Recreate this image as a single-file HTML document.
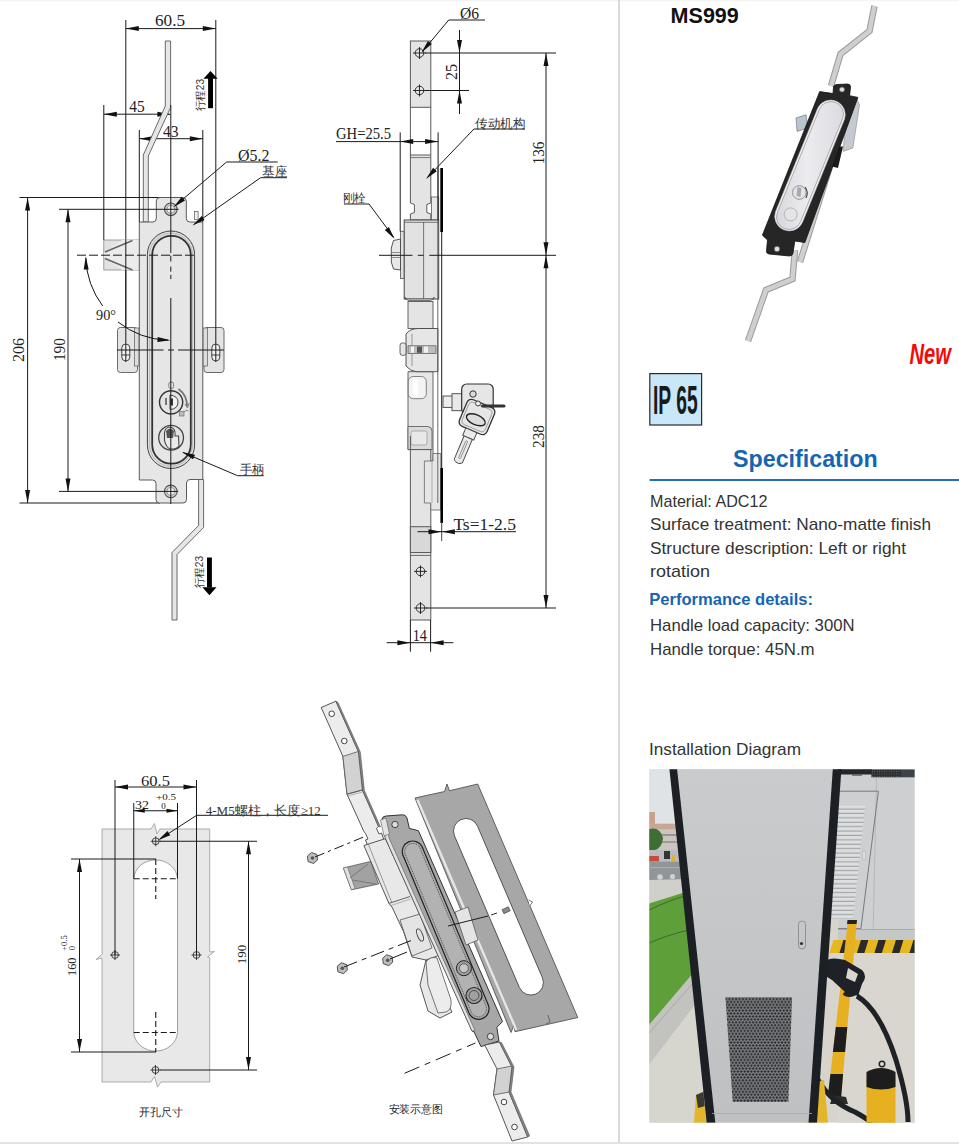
<!DOCTYPE html>
<html><head><meta charset="utf-8">
<style>
html,body{margin:0;padding:0;background:#fff;}
body{width:959px;height:1144px;position:relative;overflow:hidden;font-family:"Liberation Sans",sans-serif;}
.abs{position:absolute;}
</style></head><body>
<div class="abs" style="left:0;top:0;width:959px;height:2px;background:linear-gradient(#f0f0f0,#fff)"></div>
<div class="abs" style="left:617.5px;top:0;width:2px;height:1144px;background:#d9d9d9"></div>
<div class="abs" style="left:0;top:1142px;width:959px;height:2px;background:#e2e2e2"></div>
<svg class="abs" style="left:0;top:0" width="959" height="1144" viewBox="0 0 959 1144">
<line x1="125.8" y1="20" x2="125.8" y2="360" stroke="#1a1a1a" stroke-width="1"/>
<line x1="215.8" y1="20" x2="215.8" y2="360" stroke="#1a1a1a" stroke-width="1"/>
<line x1="125.8" y1="28.6" x2="215.8" y2="28.6" stroke="#1a1a1a" stroke-width="1"/>
<polygon points="125.80,28.60 138.80,26.10 138.80,31.10" fill="#111"/>
<polygon points="215.80,28.60 202.80,31.10 202.80,26.10" fill="#111"/>
<text x="170" y="26" font-family="Liberation Serif" font-size="16.5" text-anchor="middle" fill="#222" textLength="30" lengthAdjust="spacingAndGlyphs" >60.5</text>
<line x1="103.8" y1="105" x2="103.8" y2="240" stroke="#1a1a1a" stroke-width="1"/>
<line x1="103.8" y1="114.2" x2="170.4" y2="114.2" stroke="#1a1a1a" stroke-width="1"/>
<polygon points="103.80,114.20 116.80,111.70 116.80,116.70" fill="#111"/>
<polygon points="170.40,114.20 157.40,116.70 157.40,111.70" fill="#111"/>
<text x="136.9" y="111.6" font-family="Liberation Serif" font-size="16.5" text-anchor="middle" fill="#222" textLength="15.4" lengthAdjust="spacingAndGlyphs" >45</text>
<line x1="139.3" y1="130" x2="139.3" y2="222" stroke="#1a1a1a" stroke-width="1"/>
<line x1="202.8" y1="130" x2="202.8" y2="222" stroke="#1a1a1a" stroke-width="1"/>
<line x1="139.3" y1="138.7" x2="202.8" y2="138.7" stroke="#1a1a1a" stroke-width="1"/>
<polygon points="139.30,138.70 152.30,136.20 152.30,141.20" fill="#111"/>
<polygon points="202.80,138.70 189.80,141.20 189.80,136.20" fill="#111"/>
<text x="170.8" y="136.6" font-family="Liberation Serif" font-size="16.5" text-anchor="middle" fill="#222" textLength="15.6" lengthAdjust="spacingAndGlyphs" >43</text>
<path d="M165.3,41 L170.6,41 L170.6,107.5 L148.3,156 L148.3,222 L143.3,222 L143.3,155 L165.3,106 Z" fill="#e6e6e6" stroke="#5a5a5a" stroke-width="0.9"/>
<rect x="208.1" y="78" width="4.9" height="30.2" fill="#000"/>
<polygon points="210.5,70.9 217.6,78.7 203.4,78.7" fill="#000"/>
<text x="199.5" y="95" font-family="Liberation Sans" font-size="10.7" text-anchor="middle" fill="#333" transform="rotate(-90 199.5 95)" textLength="32" lengthAdjust="spacingAndGlyphs" dominant-baseline="central">行程23</text>
<line x1="19.5" y1="197.5" x2="160" y2="197.5" stroke="#1a1a1a" stroke-width="1"/>
<line x1="19.5" y1="503" x2="160" y2="503" stroke="#1a1a1a" stroke-width="1"/>
<line x1="27.6" y1="197.5" x2="27.6" y2="503" stroke="#1a1a1a" stroke-width="1"/>
<polygon points="27.60,197.50 30.10,210.50 25.10,210.50" fill="#111"/>
<polygon points="27.60,503.00 25.10,490.00 30.10,490.00" fill="#111"/>
<text x="18.9" y="350" font-family="Liberation Serif" font-size="16.5" text-anchor="middle" fill="#222" transform="rotate(-90 18.9 350)" textLength="24" lengthAdjust="spacingAndGlyphs" dominant-baseline="central">206</text>
<line x1="59" y1="209.3" x2="164" y2="209.3" stroke="#1a1a1a" stroke-width="1"/>
<line x1="59" y1="491.4" x2="164" y2="491.4" stroke="#1a1a1a" stroke-width="1"/>
<line x1="68" y1="209.3" x2="68" y2="491.4" stroke="#1a1a1a" stroke-width="1"/>
<polygon points="68.00,209.30 70.50,222.30 65.50,222.30" fill="#111"/>
<polygon points="68.00,491.40 65.50,478.40 70.50,478.40" fill="#111"/>
<text x="59.5" y="349.6" font-family="Liberation Serif" font-size="16.5" text-anchor="middle" fill="#222" transform="rotate(-90 59.5 349.6)" textLength="23" lengthAdjust="spacingAndGlyphs" dominant-baseline="central">190</text>
<rect x="103.8" y="240" width="35.5" height="30" fill="#e2e2e2" stroke="#888" stroke-width="0.8"/>
<path d="M122,240 L139,240 L139,270 L122,270 L104,257.5 L104,252.5Z" fill="#ececec" stroke="none"/>
<path d="M132.5,240.5 L105,252 M105,258.5 L132.5,270" stroke="#666" stroke-width="1.6" fill="none"/>
<rect x="117.5" y="327.5" width="20" height="45" rx="3" fill="#e4e4e4" stroke="#5a5a5a" stroke-width="0.9"/>
<rect x="204" y="327.5" width="20" height="45" rx="3" fill="#e4e4e4" stroke="#5a5a5a" stroke-width="0.9"/>
<rect x="134.5" y="328" width="4.5" height="38" fill="#ddd" stroke="#5a5a5a" stroke-width="0.7"/>
<rect x="203" y="328" width="4.5" height="38" fill="#ddd" stroke="#5a5a5a" stroke-width="0.7"/>
<rect x="121.8" y="344" width="8" height="17" rx="4" fill="#f2f2f2" stroke="#333" stroke-width="0.9"/>
<line x1="121.8" y1="355" x2="129.8" y2="355" stroke="#1a1a1a" stroke-width="0.8"/>
<rect x="211.8" y="344" width="8" height="17" rx="4" fill="#f2f2f2" stroke="#333" stroke-width="0.9"/>
<line x1="211.8" y1="355" x2="219.8" y2="355" stroke="#1a1a1a" stroke-width="0.8"/>
<line x1="125.8" y1="240" x2="125.8" y2="362" stroke="#1a1a1a" stroke-width="1"/>
<line x1="215.8" y1="327" x2="215.8" y2="362" stroke="#1a1a1a" stroke-width="1"/>
<path d="M139.3,222 L153,222 Q156.3,222 156.3,218 L156.3,201 Q156.3,197.5 160,197.5 L182.5,197.5 Q186.3,197.5 186.3,201 L186.3,218.5 Q186.3,222 190,222 L202.8,222 L202.8,479.5 L190,479.5 Q186.5,479.5 186.5,483 L186.5,499.5 Q186.5,503 183,503 L159.5,503 Q156,503 156,499.5 L156,483.5 Q156,480 152.5,480 L139.3,480 Z" fill="#e6e6e6" stroke="#5a5a5a" stroke-width="1"/>
<rect x="194.5" y="211.5" width="3.6" height="8" fill="#eee" stroke="#5a5a5a" stroke-width="0.7"/>
<circle cx="170.8" cy="209.3" r="6.3" fill="#cfcfcf" stroke="#555" stroke-width="1.1"/>
<circle cx="170.8" cy="209.3" r="4" fill="#f2f2f2" stroke="#888" stroke-width="0.8"/>
<circle cx="170.8" cy="491.4" r="6.3" fill="#cfcfcf" stroke="#555" stroke-width="1.1"/>
<circle cx="170.8" cy="491.4" r="4" fill="#f2f2f2" stroke="#888" stroke-width="0.8"/>
<line x1="156" y1="209.3" x2="178.6" y2="209.3" stroke="#1a1a1a" stroke-width="1"/>
<line x1="156" y1="491.4" x2="178.2" y2="491.4" stroke="#1a1a1a" stroke-width="1"/>
<rect x="147.4" y="231" width="47.2" height="237.5" rx="23.6" fill="#e2e2e2" stroke="#444" stroke-width="1"/>
<rect x="152.2" y="235.8" width="38.6" height="227.9" rx="19.3" fill="#e6e6e6" stroke="#333" stroke-width="1.8"/>
<rect x="149.6" y="233.2" width="42.8" height="233.1" rx="21.4" fill="none" stroke="#999" stroke-width="0.6"/>
<circle cx="171.1" cy="402.3" r="11.6" fill="#e4e4e4" stroke="#333" stroke-width="1.4"/>
<path d="M170,395 Q178,396 178,402 Q178,409 170,409.5 Z" fill="#f2f2f2" stroke="#444" stroke-width="1"/>
<rect x="170.2" y="398.5" width="2.8" height="7" fill="#333"/>
<path d="M165,398 L167,398 L167,405 L165,405 Z" fill="#777"/>
<path d="M178.5,389 Q187,395 187,406" stroke="#777" stroke-width="1.8" fill="none"/>
<path d="M185,404 L187.5,408 L189,403" stroke="#777" stroke-width="1" fill="none"/>
<rect x="168.8" y="382" width="4.8" height="6.5" rx="2" fill="none" stroke="#777" stroke-width="0.9"/>
<rect x="179.5" y="411.5" width="4.5" height="4.5" fill="#bbb" stroke="#777" stroke-width="0.7"/>
<path d="M184,412 Q186,409 188.5,411" stroke="#777" stroke-width="0.9" fill="none"/>
<circle cx="171.1" cy="437.7" r="12.4" fill="#e2e2e2" stroke="#444" stroke-width="1.3"/>
<path d="M164.5,440.5 L164.5,433 Q165,427 170,427 Q176,428 175,436 L178.5,436 L179,446 Q176,449.5 170,449 Q166,447 164.5,440.5 Z" fill="#eaeaea" stroke="#444" stroke-width="1.1"/>
<path d="M166,431 Q170,426 174,431 L173,438 L167,438 Z" fill="#555"/>
<line x1="77" y1="255.2" x2="195" y2="255.2" stroke="#1a1a1a" stroke-width="1" stroke-dasharray="9 3"/>
<line x1="117" y1="350" x2="163.5" y2="350" stroke="#1a1a1a" stroke-width="1"/>
<line x1="168" y1="350" x2="174" y2="350" stroke="#1a1a1a" stroke-width="1"/>
<line x1="178" y1="350" x2="224" y2="350" stroke="#1a1a1a" stroke-width="1"/>
<line x1="170.8" y1="105" x2="170.8" y2="253" stroke="#1a1a1a" stroke-width="1"/>
<line x1="170.8" y1="255.6" x2="170.8" y2="261.5" stroke="#1a1a1a" stroke-width="1"/>
<line x1="170.8" y1="266.6" x2="170.8" y2="271.7" stroke="#1a1a1a" stroke-width="1"/>
<line x1="170.8" y1="274.8" x2="170.8" y2="279" stroke="#1a1a1a" stroke-width="1"/>
<line x1="170.8" y1="298" x2="170.8" y2="504" stroke="#1a1a1a" stroke-width="1"/>
<path d="M85.8,258 A85,85 0 0 0 102.7,306" fill="none" stroke="#111" stroke-width="1"/>
<path d="M118,322 A85,85 0 0 0 168,340.2" fill="none" stroke="#111" stroke-width="1"/>
<polygon points="85.80,256.50 88.68,269.42 83.69,269.57" fill="#111"/>
<polygon points="170.50,340.20 157.39,342.02 157.65,337.03" fill="#111"/>
<text x="106" y="320" font-family="Liberation Serif" font-size="15" text-anchor="middle" fill="#222" textLength="20" lengthAdjust="spacingAndGlyphs" >90°</text>
<line x1="226.6" y1="162" x2="277.7" y2="162" stroke="#1a1a1a" stroke-width="1"/>
<line x1="226.6" y1="162" x2="174.5" y2="206.3" stroke="#1a1a1a" stroke-width="1"/>
<polygon points="173.50,207.20 181.72,196.82 184.98,200.61" fill="#111"/>
<text x="253.7" y="160.6" font-family="Liberation Serif" font-size="16.5" text-anchor="middle" fill="#222" textLength="31.4" lengthAdjust="spacingAndGlyphs" >Ø5.2</text>
<line x1="260.6" y1="177.7" x2="287" y2="177.7" stroke="#1a1a1a" stroke-width="1"/>
<line x1="260.6" y1="177.7" x2="194" y2="224.5" stroke="#1a1a1a" stroke-width="1"/>
<polygon points="192.50,225.50 201.69,215.97 204.57,220.06" fill="#111"/>
<text x="274.5" y="176" font-family="Liberation Sans" font-size="12.5" text-anchor="middle" fill="#333" textLength="25" lengthAdjust="spacingAndGlyphs" >基座</text>
<line x1="237.6" y1="475.7" x2="263.7" y2="475.7" stroke="#1a1a1a" stroke-width="1"/>
<line x1="237.6" y1="475.7" x2="183" y2="452.5" stroke="#1a1a1a" stroke-width="1"/>
<polygon points="182.00,452.00 194.95,454.75 193.00,459.36" fill="#111"/>
<text x="252.2" y="474" font-family="Liberation Sans" font-size="12.5" text-anchor="middle" fill="#333" textLength="25" lengthAdjust="spacingAndGlyphs" >手柄</text>
<path d="M198.6,479.5 L203.6,479.5 L203.6,527.5 L177,554.5 L177,620 L172,620 L172,552.5 L198.6,525.5 Z" fill="#e6e6e6" stroke="#5a5a5a" stroke-width="0.9"/>
<rect x="207" y="557.5" width="4.9" height="30" fill="#000"/>
<polygon points="209.45,595.3 216.5,587.3 202.4,587.3" fill="#000"/>
<text x="199" y="572" font-family="Liberation Sans" font-size="10.7" text-anchor="middle" fill="#333" transform="rotate(-90 199 572)" textLength="32" lengthAdjust="spacingAndGlyphs" dominant-baseline="central">行程23</text>
<rect x="410.4" y="41" width="20.400000000000034" height="66.3" fill="#e4e4e4" stroke="#5a5a5a" stroke-width="1"/>
<line x1="410.4" y1="107.3" x2="410.4" y2="155" stroke="#5a5a5a" stroke-width="1"/>
<line x1="430.8" y1="107.3" x2="430.8" y2="155" stroke="#5a5a5a" stroke-width="1"/>
<path d="M410.4,155 L430.8,155 L430.8,203 L426.8,204.5 L426.8,212.5 L430.8,214 L430.8,220 L410.4,220 L410.4,214 L414.4,212.5 L414.4,204.5 L410.4,203 Z" fill="#e4e4e4" stroke="#5a5a5a" stroke-width="1"/>
<line x1="410.4" y1="157.6" x2="430.8" y2="157.6" stroke="#5a5a5a" stroke-width="0.8"/>
<rect x="431.4" y="197" width="7.3" height="23" fill="#e8e8e8" stroke="#5a5a5a" stroke-width="0.8"/>
<circle cx="419.5" cy="53" r="4.3" fill="none" stroke="#333" stroke-width="1"/>
<line x1="413" y1="53" x2="426" y2="53" stroke="#1a1a1a" stroke-width="0.9"/>
<line x1="419.5" y1="47" x2="419.5" y2="59" stroke="#1a1a1a" stroke-width="0.9"/>
<circle cx="419.5" cy="90.5" r="4.3" fill="none" stroke="#333" stroke-width="1"/>
<line x1="413" y1="90.5" x2="426" y2="90.5" stroke="#1a1a1a" stroke-width="0.9"/>
<line x1="419.5" y1="84.5" x2="419.5" y2="96.5" stroke="#1a1a1a" stroke-width="0.9"/>
<rect x="404.2" y="220" width="34.5" height="79" fill="#e2e2e2" stroke="#444" stroke-width="1"/>
<line x1="404.2" y1="222.3" x2="438.7" y2="222.3" stroke="#5a5a5a" stroke-width="0.8"/>
<line x1="423.6" y1="222" x2="423.6" y2="299" stroke="#555" stroke-width="0.8"/>
<rect x="400.5" y="231.3" width="3.5" height="47.2" fill="#e0e0e0" stroke="#555" stroke-width="0.8"/>
<path d="M400.5,239 L393.5,240.5 L391.3,248 L391.3,262 L393.5,269 L400.5,270 Z" fill="#e8e8e8" stroke="#444" stroke-width="0.9"/>
<line x1="391.5" y1="252.5" x2="400.5" y2="252.5" stroke="#666" stroke-width="0.7"/>
<line x1="391.5" y1="257.5" x2="400.5" y2="257.5" stroke="#666" stroke-width="0.7"/>
<path d="M405.2,299 L434,299 L434,297 Q434,300 430,300.5 L409,300.5 Q405.2,300 405.2,297 Z" fill="#e4e4e4" stroke="#555" stroke-width="0.8"/>
<rect x="408" y="301.5" width="25" height="27" fill="#e4e4e4" stroke="#555" stroke-width="0.9"/>
<path d="M408,371.7 L433,371.7 L433,461 L424.4,461 L424.4,449.6 L408,449.6 Z" fill="#e6e6e6" stroke="#555" stroke-width="0.9"/>
<rect x="408.3" y="376.5" width="18" height="22.2" rx="5" fill="#f4f4f4" stroke="#666" stroke-width="0.8"/>
<rect x="413" y="379" width="5" height="17" rx="2.5" fill="#fff"/>
<path d="M408,426.5 L428,426.5 Q432,427 432,431 L432,449.6 L408,449.6 Z" fill="#dadada" stroke="#555" stroke-width="0.8"/>
<rect x="411" y="431" width="16" height="14" rx="2" fill="#e8e8e8" stroke="#888" stroke-width="0.6"/>
<path d="M406,334 Q410,328.5 418.6,328.5 L437.9,328.5 L437.9,371.7 L416,371.7 Q410,371 406,366 Z" fill="#e6e6e6" stroke="#444" stroke-width="0.9"/>
<line x1="412" y1="334" x2="412" y2="366" stroke="#777" stroke-width="0.7"/>
<rect x="400" y="342.9" width="6" height="12.5" rx="2.5" fill="#e6e6e6" stroke="#444" stroke-width="0.8"/>
<rect x="408" y="345.8" width="28" height="7.7" fill="#bdbdbd" stroke="#555" stroke-width="0.7"/>
<rect x="411" y="346.5" width="3" height="6.3" fill="#f4f4f4"/><rect x="424" y="346.5" width="4" height="6.3" fill="#f0f0f0"/><rect x="417" y="346.5" width="5" height="6.3" fill="#555"/>
<rect x="410.4" y="449.6" width="20.400000000000034" height="170.4" fill="#e4e4e4" stroke="#5a5a5a" stroke-width="1"/>
<line x1="410.4" y1="436" x2="410.4" y2="449.6" stroke="#5a5a5a" stroke-width="1"/>
<rect x="410.4" y="526.7" width="20.400000000000034" height="25.8" fill="#d8d8d8" stroke="#5a5a5a" stroke-width="1"/>
<line x1="410.4" y1="555.4" x2="430.8" y2="555.4" stroke="#5a5a5a" stroke-width="0.9"/>
<path d="M424.4,461 L433,461 L433,453.5 L440.8,453.5 L440.8,510 L430.8,510 L430.8,503 L424.4,503 Z" fill="#e6e6e6" stroke="#666" stroke-width="0.8"/>
<line x1="432" y1="461" x2="432" y2="503" stroke="#888" stroke-width="0.6"/>
<circle cx="420.5" cy="571.4" r="4.3" fill="none" stroke="#333" stroke-width="1"/>
<line x1="414" y1="571.4" x2="427" y2="571.4" stroke="#1a1a1a" stroke-width="0.9"/>
<line x1="420.5" y1="565.4" x2="420.5" y2="577.4" stroke="#1a1a1a" stroke-width="0.9"/>
<circle cx="420.5" cy="608" r="4.3" fill="none" stroke="#333" stroke-width="1"/>
<line x1="414" y1="608" x2="427" y2="608" stroke="#1a1a1a" stroke-width="0.9"/>
<line x1="420.5" y1="602" x2="420.5" y2="614" stroke="#1a1a1a" stroke-width="0.9"/>
<line x1="437.8" y1="168" x2="437.8" y2="503" stroke="#5a5a5a" stroke-width="0.9"/>
<rect x="440.3" y="168" width="2.7" height="64" fill="#000"/>
<line x1="441.7" y1="232" x2="441.7" y2="468" stroke="#1a1a1a" stroke-width="1"/>
<rect x="440.4" y="468" width="2.6" height="55" fill="#000"/>
<line x1="441.7" y1="522" x2="441.7" y2="541" stroke="#444" stroke-width="1"/>
<rect x="443" y="396" width="10" height="11.4" fill="#eee" stroke="#444" stroke-width="0.9"/>
<rect x="452" y="393.7" width="10" height="17" fill="#e8e8e8" stroke="#444" stroke-width="0.9"/>
<rect x="461.7" y="384" width="31.5" height="30" rx="5" fill="#e6e6e6" stroke="#333" stroke-width="1.2"/>
<circle cx="473" cy="394" r="3.2" fill="#ddd" stroke="#333" stroke-width="1"/>
<g transform="rotate(23 477 417)">
<rect x="462" y="402.5" width="30" height="29" rx="5" fill="#e6e6e6" stroke="#333" stroke-width="1.3"/>
<rect x="464.5" y="405" width="25" height="24" rx="4" fill="none" stroke="#888" stroke-width="0.7"/>
<ellipse cx="477" cy="420" rx="10" ry="5" fill="#ddd" stroke="#222" stroke-width="1.4"/>
<rect x="471" y="431.5" width="12" height="8" fill="#eaeaea" stroke="#444" stroke-width="0.9"/>
<path d="M472.5,439.5 L481.5,439.5 L481.5,465 Q477,469 472.5,465 Z" fill="#eaeaea" stroke="#444" stroke-width="0.9"/>
<rect x="476" y="443" width="2" height="19" rx="1" fill="none" stroke="#666" stroke-width="0.6"/>
</g>
<circle cx="478" cy="403.5" r="2.5" fill="#eee" stroke="#333" stroke-width="0.9"/>
<rect x="481" y="404.5" width="24.5" height="3" rx="1.5" fill="#333"/>
<text x="469.5" y="19" font-family="Liberation Serif" font-size="16.5" text-anchor="middle" fill="#222" textLength="19" lengthAdjust="spacingAndGlyphs" >Ø6</text>
<line x1="448.7" y1="20" x2="485" y2="20" stroke="#1a1a1a" stroke-width="1"/>
<line x1="448.7" y1="20" x2="422.5" y2="51.5" stroke="#1a1a1a" stroke-width="1"/>
<polygon points="421.50,52.50 427.90,40.91 431.74,44.11" fill="#111"/>
<line x1="425" y1="53" x2="556" y2="53" stroke="#1a1a1a" stroke-width="1"/>
<line x1="425" y1="90.5" x2="469" y2="90.5" stroke="#1a1a1a" stroke-width="1"/>
<line x1="459.5" y1="30" x2="459.5" y2="114" stroke="#1a1a1a" stroke-width="1"/>
<polygon points="459.50,53.00 457.00,40.00 462.00,40.00" fill="#111"/>
<polygon points="459.50,90.50 462.00,103.50 457.00,103.50" fill="#111"/>
<text x="451.75" y="72" font-family="Liberation Serif" font-size="16.5" text-anchor="middle" fill="#222" transform="rotate(-90 451.75 72)" textLength="16" lengthAdjust="spacingAndGlyphs" dominant-baseline="central">25</text>
<line x1="448" y1="255.3" x2="556" y2="255.3" stroke="#1a1a1a" stroke-width="1"/>
<line x1="379" y1="255.3" x2="412.5" y2="255.3" stroke="#1a1a1a" stroke-width="1"/>
<line x1="417.8" y1="255.3" x2="423.6" y2="255.3" stroke="#1a1a1a" stroke-width="1"/>
<line x1="429.3" y1="255.3" x2="448" y2="255.3" stroke="#1a1a1a" stroke-width="1"/>
<line x1="426" y1="608" x2="556" y2="608" stroke="#1a1a1a" stroke-width="1"/>
<line x1="546" y1="53" x2="546" y2="608" stroke="#1a1a1a" stroke-width="1"/>
<polygon points="546.00,53.00 548.50,66.00 543.50,66.00" fill="#111"/>
<polygon points="546.00,255.30 543.50,242.30 548.50,242.30" fill="#111"/>
<polygon points="546.00,255.30 548.50,268.30 543.50,268.30" fill="#111"/>
<polygon points="546.00,608.00 543.50,595.00 548.50,595.00" fill="#111"/>
<text x="538.3" y="153" font-family="Liberation Serif" font-size="16.5" text-anchor="middle" fill="#222" transform="rotate(-90 538.3 153)" textLength="23" lengthAdjust="spacingAndGlyphs" dominant-baseline="central">136</text>
<text x="538.3" y="436.5" font-family="Liberation Serif" font-size="16.5" text-anchor="middle" fill="#222" transform="rotate(-90 538.3 436.5)" textLength="23" lengthAdjust="spacingAndGlyphs" dominant-baseline="central">238</text>
<line x1="400.2" y1="132.4" x2="400.2" y2="231.3" stroke="#1a1a1a" stroke-width="1"/>
<line x1="438.1" y1="132.4" x2="438.1" y2="220" stroke="#1a1a1a" stroke-width="1"/>
<line x1="336" y1="141.6" x2="438.1" y2="141.6" stroke="#1a1a1a" stroke-width="1"/>
<polygon points="400.20,141.60 413.20,139.10 413.20,144.10" fill="#111"/>
<polygon points="438.10,141.60 425.10,144.10 425.10,139.10" fill="#111"/>
<text x="336" y="139" font-family="Liberation Serif" font-size="16.5" text-anchor="start" fill="#222" textLength="55" lengthAdjust="spacingAndGlyphs" >GH=25.5</text>
<line x1="474" y1="129" x2="525" y2="129" stroke="#1a1a1a" stroke-width="1"/>
<line x1="474" y1="129" x2="427.5" y2="177.5" stroke="#1a1a1a" stroke-width="1"/>
<polygon points="426.00,179.00 433.14,167.85 436.77,171.30" fill="#111"/>
<text x="500" y="128" font-family="Liberation Sans" font-size="12.5" text-anchor="middle" fill="#333" textLength="50" lengthAdjust="spacingAndGlyphs" >传动机构</text>
<line x1="344" y1="204" x2="369" y2="204" stroke="#1a1a1a" stroke-width="1"/>
<line x1="369" y1="204" x2="393.5" y2="237" stroke="#1a1a1a" stroke-width="1"/>
<polygon points="394.50,239.00 384.83,229.96 388.88,227.02" fill="#111"/>
<text x="354.3" y="201.5" font-family="Liberation Sans" font-size="12" text-anchor="middle" fill="#333" textLength="23.5" lengthAdjust="spacingAndGlyphs" >刚栓</text>
<line x1="417.5" y1="531.7" x2="516" y2="531.7" stroke="#1a1a1a" stroke-width="1"/>
<polygon points="441.50,531.70 428.50,534.20 428.50,529.20" fill="#111"/>
<polygon points="441.90,531.70 454.90,529.20 454.90,534.20" fill="#111"/>
<text x="484.7" y="530" font-family="Liberation Serif" font-size="16.5" text-anchor="middle" fill="#222" textLength="62.6" lengthAdjust="spacingAndGlyphs" >Ts=1-2.5</text>
<line x1="410.4" y1="620" x2="410.4" y2="651.7" stroke="#1a1a1a" stroke-width="1"/>
<line x1="430.6" y1="620" x2="430.6" y2="651.7" stroke="#1a1a1a" stroke-width="1"/>
<line x1="386.7" y1="642.7" x2="453.4" y2="642.7" stroke="#1a1a1a" stroke-width="1"/>
<polygon points="410.40,642.70 397.40,645.20 397.40,640.20" fill="#111"/>
<polygon points="430.60,642.70 443.60,640.20 443.60,645.20" fill="#111"/>
<text x="419.85" y="641" font-family="Liberation Serif" font-size="16.5" text-anchor="middle" fill="#222" textLength="14.3" lengthAdjust="spacingAndGlyphs" >14</text>
<path d="M102,829 L151,829 L154.5,823.5 L157,834 L160,829 L209.7,829 L209.7,952 L214.5,951.5 L207.5,957 L209.7,957.5 L209.7,1082 L161,1082 L157.5,1087 L154.5,1076.5 L151,1082 L102,1082 L102,958 L96,959.5 L103,953.5 L102,953 Z" fill="#e8e8e8" stroke="#9a9a9a" stroke-width="0.8"/>
<path d="M133.75,878.75 A21.9,19.75 0 0 1 177.5,878.75 L177.5,1032.5 A21.9,19.5 0 0 1 133.75,1032.5 Z" fill="#fff" stroke="#8a8a8a" stroke-width="0.8"/>
<line x1="133.75" y1="878.75" x2="177.5" y2="878.75" stroke="#1a1a1a" stroke-width="1.1" stroke-dasharray="6 3"/>
<line x1="155.75" y1="859" x2="155.75" y2="899" stroke="#1a1a1a" stroke-width="1.1" stroke-dasharray="6 3"/>
<line x1="133.75" y1="1032.5" x2="177.5" y2="1032.5" stroke="#1a1a1a" stroke-width="1.1" stroke-dasharray="6 3"/>
<line x1="155.75" y1="1012" x2="155.75" y2="1052" stroke="#1a1a1a" stroke-width="1.1" stroke-dasharray="6 3"/>
<line x1="115" y1="780" x2="115" y2="955" stroke="#1a1a1a" stroke-width="1"/>
<line x1="196.5" y1="780" x2="196.5" y2="955" stroke="#1a1a1a" stroke-width="1"/>
<line x1="115" y1="787" x2="196.5" y2="787" stroke="#1a1a1a" stroke-width="1"/>
<polygon points="115.00,787.00 128.00,784.50 128.00,789.50" fill="#111"/>
<polygon points="196.50,787.00 183.50,789.50 183.50,784.50" fill="#111"/>
<text x="155.5" y="786" font-family="Liberation Serif" font-size="14" text-anchor="middle" fill="#222" textLength="29" lengthAdjust="spacingAndGlyphs" >60.5</text>
<line x1="133.75" y1="803" x2="133.75" y2="878.75" stroke="#1a1a1a" stroke-width="1"/>
<line x1="177.5" y1="803" x2="177.5" y2="878.75" stroke="#1a1a1a" stroke-width="1"/>
<line x1="133.75" y1="810.75" x2="177.5" y2="810.75" stroke="#1a1a1a" stroke-width="1"/>
<polygon points="133.75,810.75 144.75,808.75 144.75,812.75" fill="#111"/>
<polygon points="177.50,810.75 166.50,812.75 166.50,808.75" fill="#111"/>
<text x="142" y="809" font-family="Liberation Serif" font-size="13.5" text-anchor="middle" fill="#222" textLength="14" lengthAdjust="spacingAndGlyphs" >32</text>
<text x="166" y="800" font-family="Liberation Serif" font-size="9" text-anchor="middle" fill="#222" textLength="20" lengthAdjust="spacingAndGlyphs" >+0.5</text>
<text x="163.5" y="809" font-family="Liberation Serif" font-size="9" text-anchor="middle" fill="#222" >0</text>
<circle cx="155.75" cy="841.25" r="3.4" fill="none" stroke="#333" stroke-width="0.9"/>
<line x1="150.75" y1="841.25" x2="160.75" y2="841.25" stroke="#1a1a1a" stroke-width="0.8"/>
<line x1="155.75" y1="836.25" x2="155.75" y2="846.25" stroke="#1a1a1a" stroke-width="0.8"/>
<circle cx="115" cy="955" r="3.4" fill="none" stroke="#333" stroke-width="0.9"/>
<line x1="110" y1="955" x2="120" y2="955" stroke="#1a1a1a" stroke-width="0.8"/>
<line x1="115" y1="950" x2="115" y2="960" stroke="#1a1a1a" stroke-width="0.8"/>
<circle cx="196.5" cy="955" r="3.4" fill="none" stroke="#333" stroke-width="0.9"/>
<line x1="191.5" y1="955" x2="201.5" y2="955" stroke="#1a1a1a" stroke-width="0.8"/>
<line x1="196.5" y1="950" x2="196.5" y2="960" stroke="#1a1a1a" stroke-width="0.8"/>
<circle cx="155.5" cy="1070" r="3.4" fill="none" stroke="#333" stroke-width="0.9"/>
<line x1="150.5" y1="1070" x2="160.5" y2="1070" stroke="#1a1a1a" stroke-width="0.8"/>
<line x1="155.5" y1="1065" x2="155.5" y2="1075" stroke="#1a1a1a" stroke-width="0.8"/>
<line x1="160" y1="841.25" x2="257" y2="841.25" stroke="#1a1a1a" stroke-width="1"/>
<line x1="160" y1="1070" x2="257" y2="1070" stroke="#1a1a1a" stroke-width="1"/>
<line x1="248.5" y1="841.25" x2="248.5" y2="1070" stroke="#1a1a1a" stroke-width="1"/>
<polygon points="248.50,841.25 251.00,854.25 246.00,854.25" fill="#111"/>
<polygon points="248.50,1070.00 246.00,1057.00 251.00,1057.00" fill="#111"/>
<text x="241.75" y="954.5" font-family="Liberation Serif" font-size="13.5" text-anchor="middle" fill="#222" transform="rotate(-90 241.75 954.5)" textLength="19.5" lengthAdjust="spacingAndGlyphs" dominant-baseline="central">190</text>
<line x1="71" y1="859" x2="156" y2="859" stroke="#1a1a1a" stroke-width="1"/>
<line x1="71" y1="1052" x2="156" y2="1052" stroke="#1a1a1a" stroke-width="1"/>
<line x1="79.5" y1="859" x2="79.5" y2="1052" stroke="#1a1a1a" stroke-width="1"/>
<polygon points="79.50,859.00 82.00,872.00 77.00,872.00" fill="#111"/>
<polygon points="79.50,1052.00 77.00,1039.00 82.00,1039.00" fill="#111"/>
<text x="71.75" y="966.75" font-family="Liberation Serif" font-size="13.5" text-anchor="middle" fill="#222" transform="rotate(-90 71.75 966.75)" textLength="18.5" lengthAdjust="spacingAndGlyphs" dominant-baseline="central">160</text>
<text x="64" y="943" font-family="Liberation Serif" font-size="8.5" text-anchor="middle" fill="#222" transform="rotate(-90 64 943)" dominant-baseline="central">+0.5</text>
<text x="71.5" y="948" font-family="Liberation Serif" font-size="8.5" text-anchor="middle" fill="#222" transform="rotate(-90 71.5 948)" dominant-baseline="central">0</text>
<line x1="196.7" y1="815.3" x2="328" y2="815.3" stroke="#1a1a1a" stroke-width="1"/>
<line x1="196.7" y1="815.3" x2="160" y2="839" stroke="#1a1a1a" stroke-width="1"/>
<polygon points="158.00,840.30 167.54,831.12 170.26,835.31" fill="#111"/>
<text x="205.8" y="814.5" font-family="Liberation Serif" font-size="12.8" text-anchor="start" fill="#333" textLength="115" lengthAdjust="spacingAndGlyphs" >4-M5螺柱，长度≥12</text>
<text x="160.75" y="1115.5" font-family="Liberation Sans" font-size="10.9" text-anchor="middle" fill="#222" textLength="43.5" lengthAdjust="spacingAndGlyphs" >开孔尺寸</text>
<path d="M415,798 L444.5,791.5 L447,784 L449.5,790.7 L477.7,784 L577.8,1017.6 L515,1031.7 L514,1025 L511,1032.5 Z" fill="#a7a7a7" stroke="#444" stroke-width="0.8"/>
<path d="M416.2,800 L418.6,799.5 L517.5,1029.6 L515.2,1030.2 Z" fill="#e6e6e6"/>
<path d="M477.5,826.1 L542.4,977.7 A12.5,12.5 0 0 1 519.4,987.5 L454.5,835.9 A12.5,12.5 0 0 1 477.5,826.1 Z" fill="#fff" stroke="#444" stroke-width="0.9"/>
<path d="M528.6,900 L532.5,902 L529.8,906" fill="#fff" stroke="#555" stroke-width="0.8"/>
<path d="M548,1015 L550,1022 L546,1024" fill="none" stroke="#555" stroke-width="0.8"/>
<rect x="502.5" y="908" width="7" height="4.5" transform="rotate(-25 506 910)" fill="#8a8a8a" stroke="#444" stroke-width="0.6"/>
<path d="M321.2,707.5 L335.9,701.2 L358.3,751.5 L362.4,790 L378.5,826.4 L376.5,828.5 L379,834 L381.5,833 L384,840 L368,846.5 L365.5,840 L368,839 L365.5,833.5 L363.8,831.3 L347,794.2 L342.9,756.4 Z" fill="#ececec" stroke="#444" stroke-width="0.9"/>
<path d="M335.9,701.2 L338,702.5 L360.3,752 L364.4,790.5 L380.5,827 L378.5,826.4 L362.4,790 L358.3,751.5 Z" fill="#888" stroke="#555" stroke-width="0.6"/>
<path d="M342.9,756.4 L358.3,751.5 L362.4,790 L347,794.2 Z" fill="#d2d2d2" stroke="#555" stroke-width="0.8"/>
<line x1="347" y1="794.2" x2="362.4" y2="790" stroke="#555" stroke-width="0.8"/>
<line x1="347.5" y1="796" x2="362.7" y2="792" stroke="#888" stroke-width="0.6"/>
<circle cx="331.7" cy="713.8" r="2.8" fill="#fff" stroke="#444" stroke-width="1"/>
<circle cx="344.3" cy="741" r="2.8" fill="#fff" stroke="#444" stroke-width="1"/>
<path d="M363.9,845.5 L385.5,838.6 L420,913 L431,918 L440,955 L426,960 L452,1012 L440,1018 L428,1011 L420,985 L426,960 L412,957 L403.6,931.8 L392,907 L388.9,903.4 Z" fill="#e8e8e8" stroke="#444" stroke-width="0.9"/>
<line x1="368" y1="843.5" x2="392" y2="903" stroke="#777" stroke-width="0.7"/>
<line x1="388.9" y1="903.4" x2="410" y2="896.5" stroke="#555" stroke-width="0.9"/>
<line x1="389.5" y1="906" x2="410.5" y2="899" stroke="#888" stroke-width="0.6"/>
<path d="M400,920 L420,914 L432,948 L412,956 Z" fill="#e4e4e4" stroke="#555" stroke-width="0.8"/>
<ellipse cx="420" cy="935" rx="2.6" ry="6.5" transform="rotate(-22 420 935)" fill="none" stroke="#444" stroke-width="0.9"/>
<path d="M426,962 Q430,956 437,958 L451,1000 Q452,1010 446,1012 L438,1013 L428,985 Z" fill="#ececec" stroke="#555" stroke-width="0.8"/>
<path d="M343.4,868 L370.7,861.4 L378.6,884 L351.4,889.8 Z" fill="#a2a2a2" stroke="#555" stroke-width="0.8"/>
<path d="M343.4,868 L347.5,867 L355,888.5 L351.4,889.8 Z" fill="#e0e0e0" stroke="#666" stroke-width="0.6"/>
<line x1="350" y1="878" x2="368" y2="864" stroke="#666" stroke-width="0.7"/>
<line x1="352" y1="880" x2="376" y2="884" stroke="#666" stroke-width="0.7"/>
<path d="M382,819.3 Q382,816.5 386,816 L402.5,814.8 Q405.5,814.5 407,818 L409.3,828.4 L418.4,830.7 L502.5,1021.6 L496.8,1027.3 L499,1041 L481,1046.6 L474,1031.8 L472,1031 L385.5,838.6 Z" fill="#a7a7a7" stroke="#333" stroke-width="1"/>
<path d="M382,819.3 L385.5,838.6 L472,1031 L475,1030.6 L389,838 L386,820 Z" fill="#e2e2e2" stroke="#555" stroke-width="0.6"/>
<path d="M380.5,820 L386,818 L389.5,834 L384,836 Z" fill="#e4e4e4" stroke="#555" stroke-width="0.6"/>
<path d="M422.1,846.7 L488.4,1005.2 A10.5,10.5 0 0 1 469.2,1013.6 L402.9,855.1 A10.5,10.5 0 0 1 422.1,846.7 Z" fill="#ababab" stroke="#222" stroke-width="1.2"/>
<path d="M419.8,847.7 L486.1,1006.2 A8,8 0 0 1 471.5,1012.6 L405.2,854.1 A8,8 0 0 1 419.8,847.7 Z" fill="#b2b2b2" stroke="#555" stroke-width="0.9" stroke-dasharray="1.5 1"/>
<circle cx="395" cy="824.5" r="3.2" fill="#ddd" stroke="#333" stroke-width="0.9"/>
<circle cx="490.5" cy="1036.5" r="3.2" fill="#ddd" stroke="#333" stroke-width="0.9"/>
<circle cx="463.9" cy="968.2" r="7.5" fill="#a0a0a0" stroke="#222" stroke-width="1"/>
<circle cx="463.9" cy="968.2" r="4.5" fill="#c8c8c8" stroke="#444" stroke-width="0.8"/>
<circle cx="474" cy="995.5" r="8" fill="#a0a0a0" stroke="#222" stroke-width="1.1"/>
<circle cx="474" cy="995.5" r="5" fill="none" stroke="#444" stroke-width="0.9"/>
<path d="M455,912 L468,907 L478,940 L466,945 Z" fill="#e4e4e4" stroke="#555" stroke-width="0.8"/>
<line x1="448" y1="926" x2="488" y2="916" stroke="#1a1a1a" stroke-width="1"/>
<line x1="491" y1="915" x2="497" y2="913" stroke="#1a1a1a" stroke-width="0.9"/>
<path d="M484.7,1045 L499.4,1042 L512,1067 L509,1092 L527.7,1137 L512,1141 L493.5,1095 L497,1069 Z" fill="#ececec" stroke="#444" stroke-width="0.9"/>
<path d="M499.4,1042 L501.5,1042.5 L514,1067 L511,1092 L529.7,1136 L527.7,1137 L509,1092 L512,1067 Z" fill="#888" stroke="#555" stroke-width="0.6"/>
<path d="M497,1069 L512,1066 L509,1092 L493.5,1095 Z" fill="#d2d2d2" stroke="#555" stroke-width="0.8"/>
<circle cx="504" cy="1102" r="2.8" fill="#fff" stroke="#444" stroke-width="1"/>
<circle cx="514.5" cy="1127" r="2.8" fill="#fff" stroke="#444" stroke-width="1"/>
<polygon points="307.5,856 311.5,852.5 317.0,854.5 317.5,860 313.5,863.5 308.0,861.5" fill="#bdbdbd" stroke="#444" stroke-width="0.9"/>
<circle cx="312.5" cy="858" r="1.8" fill="#555"/>
<polygon points="337.3,966.2 341.3,962.7 346.8,964.7 347.3,970.2 343.3,973.7 337.8,971.7" fill="#bdbdbd" stroke="#444" stroke-width="0.9"/>
<circle cx="342.3" cy="968.2" r="1.8" fill="#555"/>
<polygon points="382.7,958.2 386.7,954.7 392.2,956.7 392.7,962.2 388.7,965.7 383.2,963.7" fill="#bdbdbd" stroke="#444" stroke-width="0.9"/>
<circle cx="387.7" cy="960.2" r="1.8" fill="#555"/>
<line x1="315" y1="857" x2="366" y2="836" stroke="#1a1a1a" stroke-width="1" stroke-dasharray="10 4 3 4"/>
<line x1="344" y1="967" x2="415" y2="939" stroke="#1a1a1a" stroke-width="1" stroke-dasharray="14 5 5 5"/>
<line x1="390" y1="959" x2="407" y2="952" stroke="#1a1a1a" stroke-width="1"/>
<line x1="404.5" y1="1073.3" x2="475.4" y2="1043" stroke="#1a1a1a" stroke-width="1" stroke-dasharray="16 6 6 6"/>
<text x="415.75" y="1112.5" font-family="Liberation Sans" font-size="10.9" text-anchor="middle" fill="#222" textLength="54.5" lengthAdjust="spacingAndGlyphs" >安装示意图</text>
<text x="670.6" y="23.3" font-family="Liberation Sans" font-size="22.8" font-weight="bold" font-style="normal" fill="#111" text-anchor="start" textLength="68.2" lengthAdjust="spacingAndGlyphs">MS999</text>
<polyline points="831,86 840.5,54 869.5,31 874.5,6" fill="none" stroke="#9a9a9a" stroke-width="6.5" stroke-linejoin="miter"/>
<polyline points="831,86 840.5,54 869.5,31 874.5,6" fill="none" stroke="#cfcfcf" stroke-width="4.5" stroke-linejoin="miter"/>
<polyline points="795,250 792.5,279 766,290 748,341" fill="none" stroke="#9a9a9a" stroke-width="6.5" stroke-linejoin="miter"/>
<polyline points="795,250 792.5,279 766,290 748,341" fill="none" stroke="#cfcfcf" stroke-width="4.5" stroke-linejoin="miter"/>
<polyline points="832,160 800,262" fill="none" stroke="#9a9a9a" stroke-width="6.5" stroke-linejoin="miter"/>
<polyline points="832,160 800,262" fill="none" stroke="#cfcfcf" stroke-width="4.5" stroke-linejoin="miter"/>
<path d="M856.2,98.2 L859.5,104.9 L852.9,148 L843,151.4 L848,100 Z" fill="#c4cad0" stroke="#888" stroke-width="0.6"/>
<path d="M834.6,146.4 L843,146.4 L838,168 L830,166 Z" fill="#1a1a1a"/>
<path d="M796,118 L806,114.8 L808,128 L797,131.4 Z" fill="#b8c4d0" stroke="#667" stroke-width="0.6"/>
<path d="M819.7,91.6 L833,93.5 L833.5,87 Q834,84.5 837,84.5 L847.5,84 Q850.5,84 850.5,87 L849.6,95.7 L857.9,97.4 L804.8,242.6 L794.8,241 L793,253 Q792.5,256 789.5,256 L769,254 Q766,253.5 766.5,250.5 L767.5,240 L762.4,235.2 Z" fill="#262626" stroke="#111" stroke-width="0.8"/>
<circle cx="842" cy="89.5" r="2.6" fill="#e0e0e0" stroke="#555" stroke-width="0.8"/>
<circle cx="777" cy="249" r="2.8" fill="#e0e0e0" stroke="#555" stroke-width="0.8"/>
<defs><linearGradient id="sil" x1="0" y1="0" x2="1" y2="0"><stop offset="0" stop-color="#d8d8dc"/><stop offset="0.45" stop-color="#ececf0"/><stop offset="1" stop-color="#dcdce0"/></linearGradient></defs>
<path d="M844.4,119.5 L802.4,222.5 A14.5,14.5 0 0 1 775.6,211.5 L817.6,108.5 A14.5,14.5 0 0 1 844.4,119.5 Z" fill="#f6f6f6" stroke="#bbb" stroke-width="0.6"/>
<path d="M842.6,118.7 L800.6,221.7 A12.5,12.5 0 0 1 777.4,212.3 L819.4,109.3 A12.5,12.5 0 0 1 842.6,118.7 Z" fill="url(#sil)" stroke="#8e8e90" stroke-width="0.7"/>
<circle cx="799.3" cy="192.5" r="6.8" fill="#e6e6e8" stroke="#888" stroke-width="0.9"/>
<path d="M797.5,187 L801.5,188 L800.5,197 L796.5,196 Z" fill="#aaa"/>
<path d="M805,187 Q809,192 806,198" fill="none" stroke="#444" stroke-width="1.2"/>
<circle cx="790.7" cy="214.4" r="6.5" fill="#e4e4e6" stroke="#aaa" stroke-width="0.8"/>
<text x="909.5" y="363.8" font-family="Liberation Sans" font-size="30" font-weight="bold" font-style="italic" fill="#f40a0a" text-anchor="start" textLength="41.5" lengthAdjust="spacingAndGlyphs">New</text>
<rect x="649.8" y="373.6" width="51.8" height="51.4" fill="#c8e7f8" stroke="#2a2a2a" stroke-width="1.2"/>
<text x="653" y="413.8" font-family="Liberation Sans" font-size="40" font-weight="bold" font-style="normal" fill="#1a1a1a" text-anchor="start" textLength="44.6" lengthAdjust="spacingAndGlyphs">IP 65</text>
<text x="733" y="466.7" font-family="Liberation Sans" font-size="23.5" font-weight="bold" font-style="normal" fill="#1565b3" text-anchor="start" textLength="144.7" lengthAdjust="spacingAndGlyphs">Specification</text>
<rect x="649.6" y="479" width="309.4" height="2" fill="#2070c0"/>
<text x="650" y="506.6" font-family="Liberation Sans" font-size="17" font-weight="normal" font-style="normal" fill="#333" text-anchor="start" textLength="117.4" lengthAdjust="spacingAndGlyphs">Material: ADC12</text>
<text x="650" y="530" font-family="Liberation Sans" font-size="17" font-weight="normal" font-style="normal" fill="#333" text-anchor="start" textLength="281" lengthAdjust="spacingAndGlyphs">Surface treatment: Nano-matte finish</text>
<text x="650" y="553.8" font-family="Liberation Sans" font-size="17" font-weight="normal" font-style="normal" fill="#333" text-anchor="start" textLength="256" lengthAdjust="spacingAndGlyphs">Structure description: Left or right</text>
<text x="650" y="577" font-family="Liberation Sans" font-size="17" font-weight="normal" font-style="normal" fill="#333" text-anchor="start" textLength="59.9" lengthAdjust="spacingAndGlyphs">rotation</text>
<text x="649.3" y="604.8" font-family="Liberation Sans" font-size="17" font-weight="bold" font-style="normal" fill="#1565b3" text-anchor="start" textLength="163.7" lengthAdjust="spacingAndGlyphs">Performance details:</text>
<text x="650" y="631.4" font-family="Liberation Sans" font-size="17" font-weight="normal" font-style="normal" fill="#333" text-anchor="start" textLength="204.6" lengthAdjust="spacingAndGlyphs">Handle load capacity: 300N</text>
<text x="650" y="654.6" font-family="Liberation Sans" font-size="17" font-weight="normal" font-style="normal" fill="#333" text-anchor="start" textLength="164.6" lengthAdjust="spacingAndGlyphs">Handle torque: 45N.m</text>
<text x="649" y="755.3" font-family="Liberation Sans" font-size="17" font-weight="normal" font-style="normal" fill="#333" text-anchor="start" textLength="152" lengthAdjust="spacingAndGlyphs">Installation Diagram</text>
<svg x="649.3" y="769.3" width="265.30000000000007" height="353.5" viewBox="649.3 769.3 265.30000000000007 353.5">
<rect x="649.3" y="769.3" width="265.30000000000007" height="353.5" fill="#d6d4cc"/>
<rect x="649" y="769" width="40" height="56" fill="#e0e3e5"/>
<rect x="649" y="812" width="6" height="12" fill="#c8a090"/>
<rect x="649" y="823.7" width="40" height="6" fill="#c9a694"/>
<rect x="649" y="829.5" width="40" height="22" fill="#cbc5bf"/>
<rect x="649" y="834" width="40" height="2" fill="#9a948e"/><rect x="649" y="841" width="40" height="2" fill="#a09a94"/>
<path d="M649,829 Q660,826 663,838 Q662,848 655,850 L649,850 Z" fill="#3f6e34"/>
<rect x="649" y="850" width="40" height="11.5" fill="#b9bcbf"/>
<rect x="649" y="856" width="10" height="5.5" fill="#c84a3a"/><rect x="664" y="851" width="6" height="8" fill="#333"/><rect x="672" y="855" width="3" height="6" fill="#e0b030"/>
<rect x="649" y="861.5" width="40" height="18.5" fill="#8f9598"/>
<rect x="649" y="867" width="40" height="1.2" fill="#a8aeb0"/>
<circle cx="660" cy="877" r="2.8" fill="#d0d0d0"/><circle cx="672.5" cy="876.5" r="2.6" fill="#d0d0d0"/>
<path d="M649,880 L689,879 L689,893 L649,903.5 Z" fill="#cfcfcb"/>
<path d="M649,903.5 L689,891 L696,972 L649,1025 Z" fill="#5e9f3a"/>
<path d="M649,910 Q670,900 685,896" stroke="#3a5a2a" stroke-width="0.8" fill="none"/>
<path d="M649,943 Q665,936 688,930" stroke="#3a5a2a" stroke-width="0.8" fill="none"/>
<path d="M649,1025 L694,972 L697,1002 L649,1065 Z" fill="#c2c2be"/>
<path d="M649,1065 L697,1002 L712,1122.8 L649,1122.8 Z" fill="#d6d5ce"/>
<path d="M649,1033 L694,982" stroke="#a8a8a4" stroke-width="1" fill="none"/>
<rect x="838" y="769" width="77" height="171" fill="#cdcfd0"/>
<rect x="838" y="769" width="34" height="5.5" fill="#24282c"/>
<defs><pattern id="vg" width="2.4" height="2.4" patternUnits="userSpaceOnUse"><rect width="2.4" height="2.4" fill="#2a2d30"/><circle cx="1.2" cy="1.2" r="0.6" fill="#6a6d70"/></pattern></defs>
<rect x="871.4" y="769.3" width="29.6" height="8" fill="url(#vg)"/>
<rect x="901" y="769.3" width="14" height="8" fill="#3c4248"/>
<rect x="852" y="774.5" width="10" height="1.2" fill="#555"/>
<line x1="876.5" y1="777" x2="873" y2="940" stroke="#b0b2b4" stroke-width="0.8"/>
<path d="M838,791.2 L878.4,791.2 L860.9,928.6 L838,928.6" fill="none" stroke="#77797b" stroke-width="1"/>
<defs><pattern id="louv" width="10" height="4.4" patternUnits="userSpaceOnUse"><rect width="10" height="4.4" fill="#dcdedf"/><rect y="3.3" width="10" height="1.1" fill="#9ea2a4"/></pattern></defs>
<path d="M830,805.2 L865.2,805.2 L853,919 L830,919 Z" fill="url(#louv)"/>
<rect x="863" y="851" width="2" height="9" fill="#f4f4f4" stroke="#999" stroke-width="0.5"/>
<rect x="838" y="929.5" width="77" height="10.5" fill="#c6c8c8"/>
<line x1="838" y1="929.5" x2="915" y2="929.5" stroke="#9a9c9c" stroke-width="0.7"/>
<rect x="838" y="940" width="77" height="13" fill="#2b2b29"/>
<path d="M829.4,953 L833.4,940 L843.4,940 L839.4,953 Z" fill="#e6b820"/>
<path d="M846.9,953 L850.9,940 L860.9,940 L856.9,953 Z" fill="#e6b820"/>
<path d="M864.4,953 L868.4,940 L878.4,940 L874.4,953 Z" fill="#e6b820"/>
<path d="M881.9,953 L885.9,940 L895.9,940 L891.9,953 Z" fill="#e6b820"/>
<path d="M899.4,953 L903.4,940 L913.4,940 L909.4,953 Z" fill="#e6b820"/>
<path d="M916.9,953 L920.9,940 L930.9,940 L926.9,953 Z" fill="#e6b820"/>
<rect x="838" y="953" width="77" height="170" fill="#d8d6ce"/>
<path d="M848,920 L857,920 L841,1097 L828,1095 Z" fill="#e6b020"/>
<path d="M847.5,920 L857,920 L856.5,924 L847,924 Z" fill="#222"/>
<path d="M835.8,1027 L847.3,1027 L845.1,1052 L832.9,1052 Z" fill="#1d1d1d"/>
<path d="M830.4,1074 L843.1,1074 L841.2,1097 L828,1095 Z" fill="#1d1d1d"/>
<ellipse cx="849.5" cy="994" rx="6.5" ry="3" fill="#222"/>
<path d="M833,1095 L846,1097 L848,1104 L830,1104 Z" fill="#2a2a28"/>
<path d="M857,996 Q880,1010 896,1060 Q908,1100 908,1122" fill="none" stroke="#1e2226" stroke-width="5"/>
<path d="M817,1078 Q830,1102 855,1112 Q866,1118 872,1123" fill="none" stroke="#1e2226" stroke-width="5"/>
<path d="M824,962 Q830,956 845,960 L862,970 Q868,976 862,984 L858,996 L845,992 L832,980 L824,975 Z" fill="#1e2226"/>
<path d="M848,968 L858,974 L855,982 L846,978 Z" fill="#d8d6ce"/>
<rect x="866.5" y="1078" width="29" height="45" fill="#e6b020"/>
<path d="M866.5,1072 Q881,1064 895.5,1072 L895.5,1087 Q881,1092 866.5,1087 Z" fill="#1d1d1d"/>
<circle cx="882" cy="1064" r="2.8" fill="none" stroke="#222" stroke-width="1.4"/>
<path d="M696,1095 L712,1090 L716,1122.8 L694,1122.8 Z" fill="#e3b52a"/>
<path d="M806,1085 L824,1080 L828,1122.8 L806,1122.8 Z" fill="#e3b52a"/>
<path d="M696,1095 L712,1088 L713,1104 L698,1108 Z" fill="#3a3a30"/>
<defs><linearGradient id="cab" x1="0" y1="0" x2="0" y2="1"><stop offset="0" stop-color="#c9cbcd"/><stop offset="0.5" stop-color="#c4c6c8"/><stop offset="1" stop-color="#bec0c2"/></linearGradient></defs>
<path d="M677,769 L833,769 L817,1122.8 L706,1122.8 Z" fill="url(#cab)"/>
<path d="M669.4,769 L677.1,769 L715.3,1122.8 L706.7,1122.8 Z" fill="#1c1f24"/>
<path d="M832.8,769 L841.4,769 L817,1122.8 L808.5,1122.8 Z" fill="#1c1f24"/>
<rect x="798.5" y="921" width="7" height="28" rx="3.5" fill="none" stroke="#8e9092" stroke-width="1"/>
<circle cx="801.5" cy="943.5" r="1.6" fill="#333"/>
<defs><pattern id="holes" width="3.4" height="5.8" patternUnits="userSpaceOnUse"><rect width="3.4" height="5.8" fill="#8e9092"/><circle cx="1.7" cy="1.45" r="1.25" fill="#26282c"/><circle cx="0" cy="4.35" r="1.25" fill="#26282c"/><circle cx="3.4" cy="4.35" r="1.25" fill="#26282c"/></pattern></defs>
<path d="M725.4,997.2 L792.1,997.2 L788.4,1101.9 L732.7,1101.9 Z" fill="url(#holes)"/>
<line x1="712" y1="1113.5" x2="812" y2="1113.5" stroke="#a8a9ab" stroke-width="0.8"/>
</svg>
</svg>
</body></html>
